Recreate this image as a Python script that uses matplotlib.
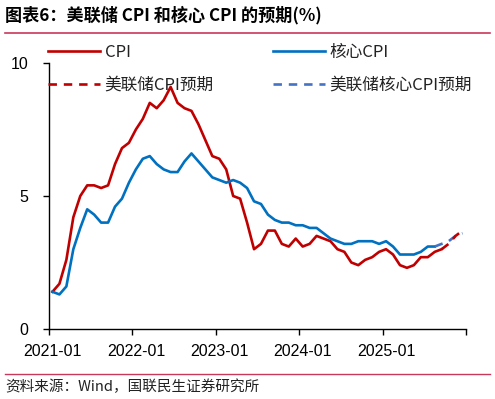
import matplotlib
matplotlib.use('Agg')
import matplotlib.pyplot as plt
from matplotlib.lines import Line2D
import numpy as np

# ---------------- data ----------------
tick_labels = ['2021-01', '2022-01', '2023-01', '2024-01', '2025-01']
n_months = 60  # 2021-01 .. 2025-12

cpi = [1.4, 1.7, 2.6, 4.2, 5.0, 5.4, 5.4, 5.3, 5.4, 6.2, 6.8, 7.0,
       7.5, 7.9, 8.5, 8.3, 8.6, 9.1, 8.5, 8.3, 8.2, 7.7, 7.1, 6.5,
       6.4, 6.0, 5.0, 4.9, 4.0, 3.0, 3.2, 3.7, 3.7, 3.2, 3.1, 3.4,
       3.1, 3.2, 3.5, 3.4, 3.3, 3.0, 2.9, 2.5, 2.4, 2.6, 2.7, 2.9,
       3.0, 2.8, 2.4, 2.3, 2.4, 2.7, 2.7, 2.9, 3.0]
core = [1.4, 1.3, 1.6, 3.0, 3.8, 4.5, 4.3, 4.0, 4.0, 4.6, 4.9, 5.5,
        6.0, 6.4, 6.5, 6.2, 6.0, 5.9, 5.9, 6.3, 6.6, 6.3, 6.0, 5.7,
        5.6, 5.5, 5.6, 5.5, 5.3, 4.8, 4.7, 4.3, 4.1, 4.0, 4.0, 3.9,
        3.9, 3.8, 3.8, 3.6, 3.4, 3.3, 3.2, 3.2, 3.3, 3.3, 3.3, 3.2,
        3.3, 3.1, 2.8, 2.8, 2.8, 2.9, 3.1, 3.1]
cpi_proj = [3.0, 3.2, 3.5, 3.7]          # starts at last CPI month
core_proj = [3.1, 3.2, 3.3, 3.5, 3.6]    # starts at last core CPI month

labels = ['CPI', '美联储CPI预期', '核心CPI', '美联储核心CPI预期']
title = '图表6：美联储 CPI 和核心 CPI 的预期(%)'
source = '资料来源：Wind，国联民生证券研究所'

# ---------------- style ----------------
CJK = ['Noto Sans CJK SC', 'DejaVu Sans']
plt.rcParams['font.family'] = CJK
RED = '#C00000'
BLUE = '#0070C0'
BLUE_D = '#4472C4'
SEP = '#C8385A'
LW = 1.9
DASH = (3.2, 2.6)

fig = plt.figure(figsize=(4.95, 3.99), dpi=100)
ax = fig.add_axes([49/495, 1 - 329/399, (466 - 49)/495, (329 - 63)/399])

x_cpi = np.arange(len(cpi))
x_core = np.arange(len(core))
x_cpi_p = np.arange(len(cpi) - 1, len(cpi) - 1 + len(cpi_proj))
x_core_p = np.arange(len(core) - 1, len(core) - 1 + len(core_proj))

l1, = ax.plot(x_cpi, cpi, color=RED, lw=LW, solid_joinstyle='round')
l3, = ax.plot(x_core, core, color=BLUE, lw=LW, solid_joinstyle='round')
l4, = ax.plot(x_core_p, core_proj, color=BLUE_D, lw=LW, dashes=DASH)
l2, = ax.plot(x_cpi_p, cpi_proj, color=RED, lw=LW, dashes=DASH)

ax.set_xlim(-0.5, n_months - 0.5)
ax.set_ylim(0, 10)
ax.set_yticks([0, 5, 10])
ax.set_xticks(np.arange(-0.5, n_months, 12))
ax.set_xticklabels([])
ax.set_xticks(np.arange(0, 12 * len(tick_labels), 12), minor=True)
ax.set_xticklabels(tick_labels, minor=True)
ax.tick_params(axis='x', which='major', direction='out', length=4.5, width=1.0)
ax.tick_params(axis='x', which='minor', length=0, pad=10.5)
ax.tick_params(axis='y', direction='out', length=4.5, width=1.0, pad=10.5)
for lab in ax.get_xticklabels(minor=True) + ax.get_yticklabels():
    lab.set_family(['Liberation Sans', 'DejaVu Sans'])
    lab.set_fontsize(11.5)
for s in ['top', 'right']:
    ax.spines[s].set_visible(False)
for s in ['left', 'bottom']:
    ax.spines[s].set_linewidth(1.0)
    ax.spines[s].set_color('black')

leg_kw = dict(loc='upper left', bbox_transform=fig.transFigure, frameon=False,
              borderpad=0, borderaxespad=0, handlelength=3.1, handletextpad=0.3,
              labelspacing=0.95, prop={'family': CJK, 'size': 12})
leg1 = ax.legend([l1, l2], labels[:2], bbox_to_anchor=(48/495, 1 - 44/399), **leg_kw)
ax.add_artist(leg1)
leg2 = ax.legend([l3, l4], labels[2:], bbox_to_anchor=(273/495, 1 - 44/399), **leg_kw)
for lg in (leg1, leg2):
    for t in lg.get_texts():
        t.set_color('#222222')

fig.text(5/495, 1 - 15/399, title, ha='left', va='center', fontsize=12.3,
         fontweight='bold', family=CJK)
fig.add_artist(Line2D([5/495, 490/495], [1 - 33/399] * 2, color=SEP, lw=1.2,
                      transform=fig.transFigure))
fig.add_artist(Line2D([5/495, 490/495], [1 - 374/399] * 2, color=SEP, lw=1.0,
                      transform=fig.transFigure))
fig.text(5/495, 1 - 387/399, source, ha='left', va='center', fontsize=10.5,
         family=CJK, color='#222222')

fig.savefig('out.png', dpi=100)
